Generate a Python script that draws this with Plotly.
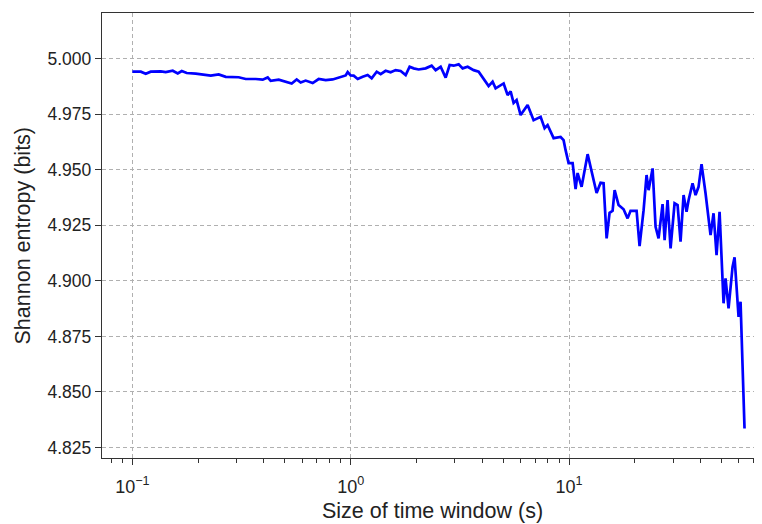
import plotly.graph_objects as go

# Data
window_s = [0.1, 0.1093, 0.1152, 0.1214, 0.1349, 0.1422, 0.1531, 0.1614, 0.1684, 0.1775,
            0.1951, 0.2286, 0.2486, 0.2678, 0.3070, 0.3305, 0.3673, 0.3955, 0.4169, 0.4302,
            0.4681, 0.5040,
            0.5369, 0.5659, 0.5903, 0.6222, 0.6699, 0.7136, 0.7685, 0.8272, 0.9000, 0.9487,
            0.9689, 1.0, 1.032, 1.077, 1.135, 1.196, 1.248, 1.316, 1.372, 1.446,
            1.524, 1.607, 1.694, 1.786, 1.862, 1.943, 2.048, 2.205, 2.349, 2.450,
            2.583, 2.723, 2.840, 2.963, 3.123, 3.257, 3.434, 3.658, 3.856, 4.064,
            4.284, 4.468, 4.612, 5.018, 5.234, 5.403, 5.576, 5.755, 6.004, 6.463,
            6.884, 7.413, 7.732, 7.980, 8.502, 9.152, 9.446, 9.647, 9.958, 10.39,
            10.72, 10.95, 11.42, 12.17, 12.83, 13.38, 13.95, 14.40, 14.87, 15.34,
            15.84, 16.18, 16.87, 17.78, 18.55, 19.14, 20.40, 21.05, 21.96, 22.66,
            23.15, 24.15, 24.92, 25.72, 26.83, 27.41, 28.28, 29.19, 30.45, 31.43,
            32.43, 33.48, 34.55, 35.29, 36.81, 37.99, 39.21, 40.47, 42.21, 44.50,
            45.93, 47.41, 48.94, 51.04, 52.12, 53.80, 56.12, 57.32, 59.79, 61.06,
            63.68]
entropy_bits = [4.9941, 4.9941, 4.9932, 4.9941, 4.9942, 4.9939, 4.9945, 4.9933, 4.9944, 4.9935,
                4.9932, 4.9923, 4.9929, 4.9918, 4.9916, 4.9908, 4.9908, 4.9905, 4.9915, 4.9900,
                4.9905, 4.9894,
                4.9888, 4.9906, 4.9892, 4.9901, 4.9890, 4.9908, 4.9903, 4.9906, 4.9917, 4.9924,
                4.9939, 4.9924, 4.9923, 4.9908, 4.9918, 4.9926, 4.9911, 4.9941, 4.9930, 4.9945,
                4.9938, 4.9948, 4.9944, 4.9926, 4.9963, 4.9956, 4.9951, 4.9956, 4.9968, 4.9948,
                4.9963, 4.9914, 4.9971, 4.9968, 4.9974, 4.9956, 4.9963, 4.9948, 4.9941, 4.9908,
                4.9876, 4.9896, 4.9866, 4.9888, 4.9836, 4.9852, 4.9800, 4.9813, 4.9746, 4.9791,
                4.9723, 4.9738, 4.9687, 4.9701, 4.9642, 4.9647, 4.9633, 4.9588, 4.9530, 4.9530,
                4.9413, 4.9485, 4.9423, 4.9570, 4.9468, 4.9395, 4.9441, 4.9439, 4.9191, 4.9306,
                4.9315, 4.9408, 4.9341, 4.9322, 4.9281, 4.9315, 4.9315, 4.9156, 4.9318, 4.9476,
                4.9408, 4.9506, 4.9243, 4.9191, 4.9345, 4.9183, 4.9363, 4.9146, 4.9349, 4.9341,
                4.9176, 4.9386, 4.9311, 4.9363, 4.9439, 4.9386, 4.9423, 4.9525, 4.9394, 4.9206,
                4.9304, 4.9116, 4.9311, 4.8899, 4.9011, 4.8876, 4.9063, 4.9106, 4.8838, 4.8906,
                4.8336]

x_tick_vals = [0.1, 1, 10]
x_tick_text = ["10<sup>\u22121</sup>", "10<sup>0</sup>", "10<sup>1</sup>"]
y_tick_vals = [4.825, 4.850, 4.875, 4.900, 4.925, 4.950, 4.975, 5.000]
y_tick_text = ["4.825", "4.850", "4.875", "4.900", "4.925", "4.950", "4.975", "5.000"]
x_title = "Size of time window (s)"
y_title = "Shannon entropy (bits)"

minor_vals = [m * 10.0 ** e for e in (-2, -1, 0, 1) for m in range(2, 10)]

FONT = "Liberation Sans, Arial, sans-serif"
GRID_DASH = "4px,3px"

fig = go.Figure()
fig.add_trace(go.Scatter(
    x=window_s, y=entropy_bits, mode="lines",
    line=dict(color="#0000ff", width=2.7),
    showlegend=False, hoverinfo="skip",
))

# the page adds an 8px body margin, so the figure is offset by (8, 8)
fig.update_layout(
    width=762, height=524,
    margin=dict(l=94, r=8, t=5, b=74),
    paper_bgcolor="white", plot_bgcolor="white",
    font=dict(family=FONT, color="#222222"),
    showlegend=False,
)

fig.update_xaxes(
    type="log", range=[-1.139, 1.884],
    tickmode="array", tickvals=x_tick_vals, ticktext=x_tick_text,
    ticks="outside", ticklen=6, tickwidth=1.2, tickcolor="#333333",
    tickfont=dict(size=18, family=FONT, color="#222222"),
    ticklabelstandoff=6,
    showgrid=True, gridcolor="#b0b0b0", griddash=GRID_DASH, gridwidth=1,
    showline=True, linecolor="#333333", linewidth=1.4, mirror=True,
    zeroline=False,
    minor=dict(tickmode="array", tickvals=minor_vals, ticks="outside",
               ticklen=3.5, tickcolor="#333333", showgrid=False),
)
fig.update_yaxes(
    range=[4.8203, 5.0205],
    tickmode="array", tickvals=y_tick_vals, ticktext=y_tick_text,
    ticks="outside", ticklen=6, tickwidth=1.2, tickcolor="#333333",
    tickfont=dict(size=17.5, family=FONT, color="#222222"),
    showgrid=True, gridcolor="#b0b0b0", griddash=GRID_DASH, gridwidth=1,
    showline=True, linecolor="#333333", linewidth=1.4, mirror=False,
    zeroline=False,
)

fig.add_annotation(
    text=x_title, xref="paper", yref="paper", x=0.5, y=-53 / 445,
    xanchor="center", yanchor="middle", showarrow=False,
    font=dict(size=21.5, family=FONT, color="#222222"),
)
fig.add_annotation(
    text=y_title, xref="paper", yref="paper", x=-80 / 660, y=0.5,
    xanchor="center", yanchor="middle", showarrow=False, textangle=-90,
    font=dict(size=21.5, family=FONT, color="#222222"),
)

fig.write_html("out.html")
